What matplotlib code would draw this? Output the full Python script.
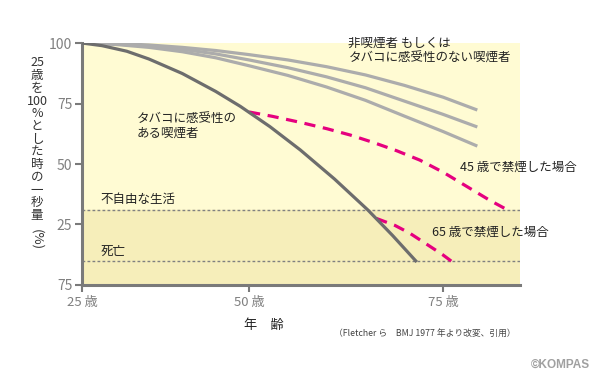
import matplotlib.pyplot as plt
import numpy as np

plt.rcParams['font.family'] = ['Noto Sans CJK JP', 'DejaVu Sans']

# data (age, % of FEV1 at age 25)
smoker_age = [25, 28, 31.7, 35, 40, 45, 48.7, 52.7, 56.6, 61.0, 65.3, 68.5, 71.6]
smoker_val = [100, 98.9, 96.6, 93.4, 87.4, 80.0, 73.8, 65.4, 55.8, 43.8, 31.0, 20.4, 9.5]

quit45_age = [50, 53, 56.6, 60, 63, 66, 69, 72, 75, 78, 81, 83.3]
quit45_val = [71.5, 69.7, 67.2, 64.6, 62.0, 58.9, 55.5, 51.6, 46.6, 40.8, 35.0, 31.0]

quit65_age = [66.4, 68.8, 70.7, 72.9, 74.9, 76.2]
quit65_val = [27.5, 24.6, 21.4, 16.8, 12.6, 9.5]

nonsmoker_age = [25, 30, 35, 40, 45, 50, 55, 60, 65, 70, 75, 79.4]
nonsmoker_top = [100, 99.8, 99.2, 98.2, 96.9, 95.2, 93.0, 90.2, 86.8, 82.5, 77.6, 72.3]
nonsmoker_mid = [100, 99.6, 98.7, 97.4, 95.5, 93.0, 89.8, 86.0, 81.5, 76.0, 70.5, 65.3]
nonsmoker_low = [100, 99.4, 98.2, 96.4, 93.9, 90.6, 86.6, 81.8, 76.3, 69.8, 63.4, 57.4]

disability_level = 31
death_level = 10

x_ticks = [25, 50, 75]
x_labels = ['25 歳', '50 歳', '75 歳']
y_ticks = [0, 25, 50, 75, 100]
y_labels = ['75', '25', '50', '75', '100']

ylabel_parts = ['25', '歳', 'を', '100', '%', 'と', 'し', 'た', '時', 'の', '一', '秒', '量']


# the original age axis is not evenly spaced
def fwd(a):
    a = np.asarray(a, dtype=float)
    return np.where(a < 50, (a - 25) * 6.68, 167 + (a - 50) * 7.76)


def inv(p):
    p = np.asarray(p, dtype=float)
    return np.where(p < 167, 25 + p / 6.68, 50 + (p - 167) / 7.76)


fig = plt.figure(figsize=(6, 3.83), dpi=100)
ax = fig.add_axes([0.1367, 0.2559, 0.73, 0.6318])
ax.set_xscale('function', functions=(fwd, inv))
ax.set_xlim(25, 84.9)
ax.set_ylim(0, 100)

ax.axhspan(disability_level, 100, color='#fffbd3', zorder=0)
ax.axhspan(0, disability_level, color='#f6eeba', zorder=0)
for lv in [disability_level, death_level]:
    ax.axhline(lv, color='#808080', lw=1, ls=(0, (2, 1.6)), zorder=1)

grey = '#acacac'
ax.plot(nonsmoker_age, nonsmoker_top, color=grey, lw=2.3, solid_capstyle='butt')
ax.plot(nonsmoker_age, nonsmoker_mid, color=grey, lw=2.3, solid_capstyle='butt')
ax.plot(nonsmoker_age, nonsmoker_low, color=grey, lw=2.3, solid_capstyle='butt')
ax.plot(smoker_age, smoker_val, color='#6d6d6d', lw=2.3, solid_capstyle='butt', zorder=3)
ax.plot(quit45_age, quit45_val, color='#e5007f', lw=2.3, dashes=(3.5, 2.4), zorder=2)
ax.plot(quit65_age, quit65_val, color='#e5007f', lw=2.3, dashes=(3.5, 2.4), zorder=2)

txt = dict(fontsize=9, color='#222222')
ax.text(62.8, 102.5, '非喫煙者 もしくは\nタバコに感受性のない喫煙者', va='top', ha='left',
        linespacing=1.15, clip_on=False, **txt)
ax.text(33.2, 71.5, 'タバコに感受性の\nある喫煙者', va='top', ha='left', linespacing=1.15, **txt)
ax.text(77.2, 48.8, '45 歳で禁煙した場合', va='center', ha='left', clip_on=False, **txt)
ax.text(73.6, 21.9, '65 歳で禁煙した場合', va='center', ha='left', clip_on=False, **txt)
ax.text(27.8, 35.3, '不自由な生活', va='center', ha='left', **txt)
ax.text(27.8, 13.8, '死亡', va='center', ha='left', **txt)

for side in ['top', 'right']:
    ax.spines[side].set_visible(False)
for side in ['left', 'bottom']:
    ax.spines[side].set_color('#7a7a7a')
    ax.spines[side].set_linewidth(2.2)

ax.set_xticks(x_ticks)
ax.set_xticklabels(x_labels)
ax.set_yticks(y_ticks)
ax.set_yticklabels(y_labels)
ax.tick_params(axis='both', colors='#7a7a7a', width=1.5, length=5, labelsize=10,
               labelcolor='#808080')
ax.tick_params(axis='x', pad=3, labelsize=9.5)
ax.tick_params(axis='y', pad=2)

# stacked vertical y label
for i, part in enumerate(ylabel_parts):
    fig.text(37 / 600, 1 - (63 + i * 12.7) / 383, part, ha='center', va='center',
             fontsize=9, color='#333333')
fig.text(37 / 600, 1 - 240 / 383, '(%)', ha='center', va='center', rotation=-90,
         fontsize=9.5, color='#333333')

fig.text(264 / 600, 1 - 325 / 383, '年　齢', ha='center', va='center', fontsize=9.5,
         color='#222222')
fig.text(425 / 600, 1 - 333 / 383, '（Fletcher ら　BMJ 1977 年より改変、引用）',
         ha='center', va='center', fontsize=6.3, color='#444444')
fig.text(590 / 600, 1 - 365 / 383, '©KOMPAS', ha='right', va='center', fontsize=8.5,
         fontweight='bold', color='#a0a0a0', family='Liberation Sans')

fig.savefig('out.png', dpi=100)
